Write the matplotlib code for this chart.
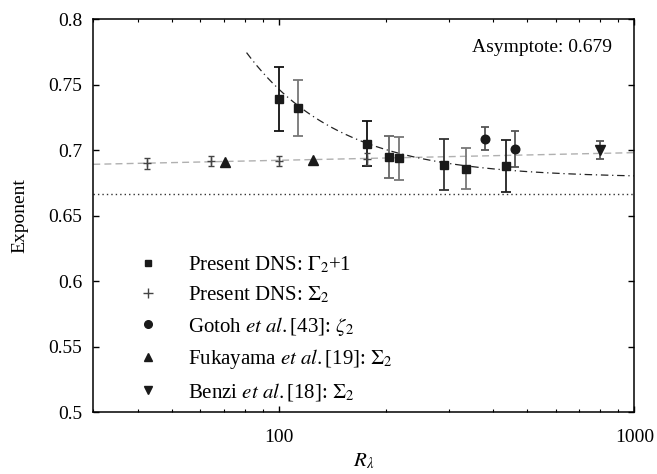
import numpy as np
import matplotlib
matplotlib.use("Agg")
import matplotlib.pyplot as plt
from matplotlib.lines import Line2D

plt.rcParams['font.family'] = ['Liberation Serif', 'DejaVu Serif']
plt.rcParams['mathtext.fontset'] = 'stix'
plt.rcParams['font.size'] = 14

# Present DNS: Gamma_2 + 1
sq_x = [100, 113, 177, 204, 217, 291, 336, 434]
sq_y = [0.739, 0.7325, 0.705, 0.695, 0.694, 0.689, 0.686, 0.688]
sq_err = [0.0245, 0.0215, 0.017, 0.016, 0.0165, 0.0195, 0.0155, 0.020]
sq_ecol = ['#111111', '#777777', '#111111', '#666666', '#777777', '#333333', '#777777', '#222222']

# Present DNS: Sigma_2
pl_x = [42.4, 64.5, 100, 177]
pl_y = [0.690, 0.692, 0.692, 0.6935]
pl_err = [0.0045, 0.0036, 0.0036, 0.0045]

# Gotoh et al.
ci_x = [381, 460]
ci_y = [0.709, 0.701]
ci_err = [0.009, 0.014]

# Fukayama et al.
tu_x = [70.3, 125]
tu_y = [0.691, 0.6925]

# Benzi et al.
td_x = [800]
td_y = [0.700]
td_err = [0.007]

# fits
lin_a, lin_b = 0.6807, 0.00584        # y = a + b*log10(x)
asym, fit_A, fit_p = 0.679, 134.7, 1.65  # y = asym + A*x^-p
fit_x_start = 81
k41 = 2.0 / 3.0

fig = plt.figure(figsize=(6.57, 4.74), dpi=100)
ax = fig.add_axes([0.142, 0.130, 0.8235, 0.8293])
ax.set_xscale('log')
ax.set_xlim(30, 1000)
ax.set_ylim(0.5, 0.8)

# lines
ax.axhline(k41, color='#333333', lw=1.0, ls=(0, (1, 2.2)))
xl = np.logspace(np.log10(30), 3, 200)
ax.plot(xl, lin_a + lin_b * np.log10(xl), color='#b0b0b0', lw=1.0, ls=(0, (5, 3)))
xf = np.logspace(np.log10(fit_x_start), 3, 300)
ax.plot(xf, asym + fit_A * xf ** (-fit_p), color='#222222', lw=0.9, ls=(0, (6, 3, 1, 3)))

# data
for x, y, e, c in zip(sq_x, sq_y, sq_err, sq_ecol):
    ax.errorbar([x], [y], yerr=[e], fmt='none', ecolor=c, elinewidth=1.3, capsize=3.6, capthick=1.3)
ax.plot(sq_x, sq_y, 's', color='#1a1a1a', ms=5.5, ls='none', zorder=5)

ax.errorbar(pl_x, pl_y, yerr=pl_err, fmt='+', color='#444444', ms=6, mew=1.0,
            elinewidth=1.0, capsize=2.5, capthick=1.0)

ax.errorbar(ci_x, ci_y, yerr=ci_err, fmt='none', ecolor='#555555', elinewidth=1.3, capsize=3.2, capthick=1.3)
ax.plot(ci_x, ci_y, 'o', color='#1a1a1a', ms=6.2, ls='none', zorder=5)

ax.plot(tu_x, tu_y, '^', color='#1a1a1a', ms=6.5, ls='none', zorder=5)

ax.errorbar(td_x, td_y, yerr=td_err, fmt='none', ecolor='#555555', elinewidth=1.3, capsize=3.2, capthick=1.3)
ax.plot(td_x, td_y, 'v', color='#1a1a1a', ms=6.5, ls='none', zorder=5)

# ticks
ax.set_yticks([0.5, 0.55, 0.6, 0.65, 0.7, 0.75, 0.8])
ax.set_yticklabels(['0.5', '0.55', '0.6', '0.65', '0.7', '0.75', '0.8'])
ax.set_xticks([100, 1000])
ax.set_xticklabels(['100', '1000'])
ax.tick_params(which='both', direction='in', top=True, right=True)
ax.tick_params(which='major', length=4.5, width=1.0, labelsize=14, pad=8)
ax.tick_params(axis='x', which='major', pad=12)
ax.tick_params(which='minor', length=2.5, width=0.8)
ax.minorticks_on()
ax.yaxis.set_minor_locator(matplotlib.ticker.NullLocator())
ax.xaxis.set_minor_formatter(matplotlib.ticker.NullFormatter())
for s in ax.spines.values():
    s.set_linewidth(1.1)

ax.set_ylabel('Exponent', fontsize=14, labelpad=14)
ax.set_xlabel(r'$R_\lambda$', fontsize=15, labelpad=4)

ax.text(0.7, 0.929, 'Asymptote: 0.679', transform=ax.transAxes, fontsize=14, va='center', ha='left')

handles = [
    Line2D([], [], marker='s', color='#1a1a1a', ls='none', ms=5),
    Line2D([], [], marker='+', color='#444444', ls='none', ms=7, mew=1.0),
    Line2D([], [], marker='o', color='#1a1a1a', ls='none', ms=5.5),
    Line2D([], [], marker='^', color='#1a1a1a', ls='none', ms=5.5),
    Line2D([], [], marker='v', color='#1a1a1a', ls='none', ms=5.5),
]
labels = [
    r'Present DNS: $\Gamma_2$+1',
    r'Present DNS: $\Sigma_2$',
    r'Gotoh $\mathit{et\ al.}$[43]: $\zeta_2$',
    r'Fukayama $\mathit{et\ al.}$[19]: $\Sigma_2$',
    r'Benzi $\mathit{et\ al.}$[18]: $\Sigma_2$',
]
ax.legend(handles, labels, loc='upper left', bbox_to_anchor=(0.081, 0.402), frameon=False,
          fontsize=15, handlelength=1.0, handletextpad=1.45, labelspacing=0.455, borderpad=0,
          borderaxespad=0)

fig.savefig('out.png', dpi=100)
